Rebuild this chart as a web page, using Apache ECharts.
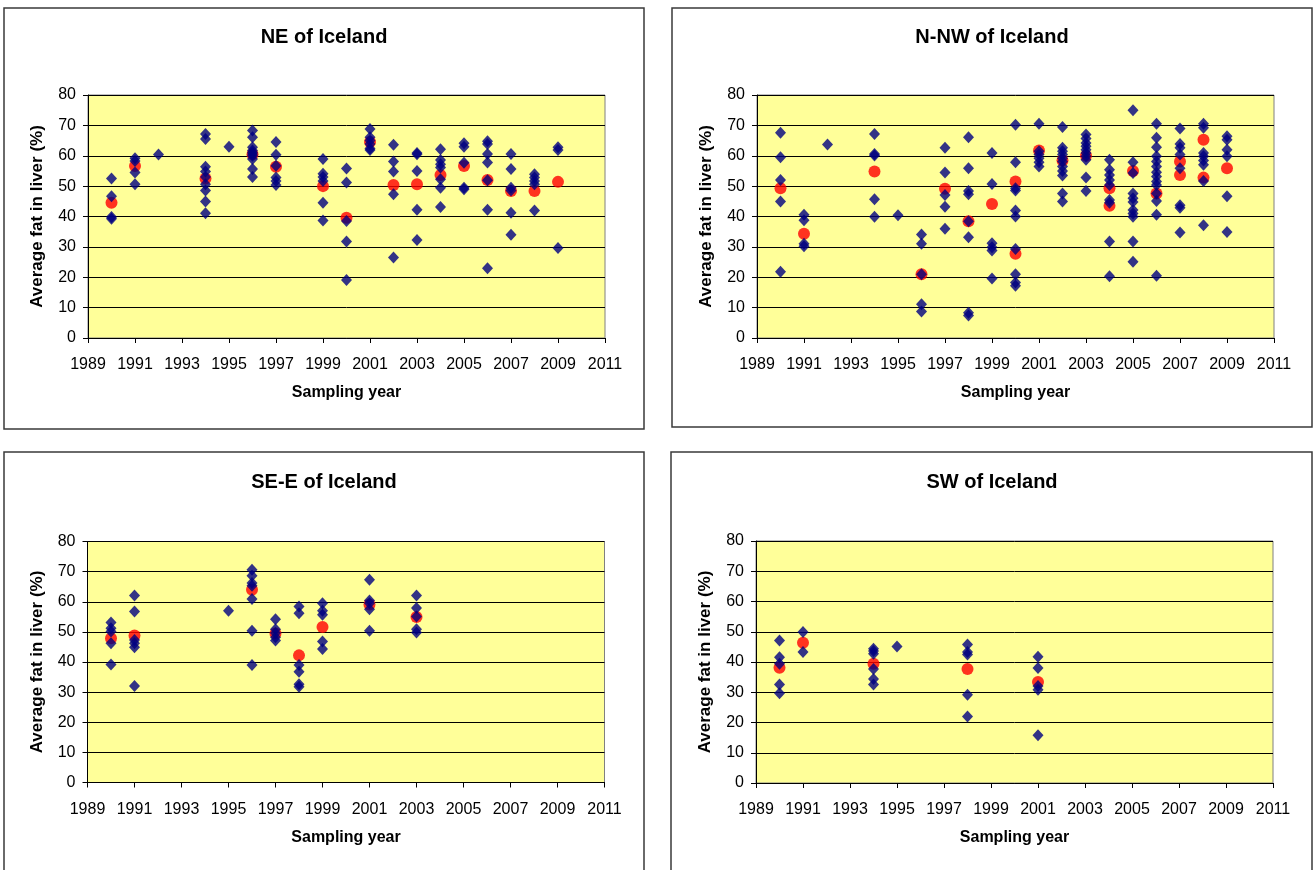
<!DOCTYPE html>
<html>
<head>
<meta charset="utf-8">
<script src="https://cdn.jsdelivr.net/npm/echarts@6/dist/echarts.min.js"></script>
<style>
html,body{margin:0;padding:0;background:#ffffff;}
#chart{width:1314px;height:870px;}
</style>
</head>
<body>
<div id="chart"></div>
<script>
// ---------- data ----------
const X_TICKS = [1989, 1991, 1993, 1995, 1997, 1999, 2001, 2003, 2005, 2007, 2009, 2011];
const PANEL_TITLES = ['NE of Iceland', 'N-NW of Iceland', 'SE-E of Iceland', 'SW of Iceland'];
const X_NAME = 'Sampling year';
const Y_NAME = 'Average fat in liver (%)';

// individual samples [year, fat %]
const NE_SAMPLES = [
  [1990,52.5],[1990,46.7],[1990,39.8],[1990,39.3],
  [1991,59.2],[1991,58.3],[1991,54.5],[1991,50.6],
  [1992,60.4],
  [1994,67.2],[1994,65.5],[1994,56.4],[1994,54.8],[1994,53.0],[1994,50.6],[1994,48.6],[1994,44.9],[1994,41.1],
  [1995,63.0],
  [1996,68.3],[1996,66.1],[1996,62.8],[1996,61.7],[1996,61.1],[1996,60.6],[1996,60.0],[1996,58.9],[1996,55.6],[1996,53.0],
  [1997,64.5],[1997,60.3],[1997,56.7],[1997,52.8],[1997,51.7],[1997,50.4],
  [1999,58.9],[1999,54.1],[1999,53.0],[1999,51.7],[1999,44.5],[1999,38.7],
  [2000,55.8],[2000,51.2],[2000,38.5],[2000,31.8],[2000,19.1],
  [2001,68.8],[2001,66.1],[2001,65.0],[2001,63.9],[2001,62.4],[2001,61.9],
  [2002,63.6],[2002,58.1],[2002,54.8],[2002,47.3],[2002,26.5],
  [2003,60.9],[2003,60.5],[2003,55.0],[2003,42.2],[2003,32.3],
  [2004,62.1],[2004,58.6],[2004,57.2],[2004,56.1],[2004,52.3],[2004,49.5],[2004,43.1],
  [2005,64.1],[2005,63.0],[2005,57.7],[2005,49.5],[2005,49.0],
  [2006,64.8],[2006,63.9],[2006,60.6],[2006,57.8],[2006,51.9],[2006,42.2],[2006,23.0],
  [2007,60.6],[2007,55.6],[2007,49.5],[2007,48.6],[2007,41.2],[2007,34.0],
  [2008,53.9],[2008,52.8],[2008,51.7],[2008,50.6],[2008,42.0],
  [2009,62.8],[2009,61.9],[2009,29.6]
];
const NE_MEANS = [
  [1990,44.5],[1991,56.6],[1994,52.5],[1996,60.5],[1997,56.4],[1999,50.0],[2000,39.6],[2001,64.5],
  [2002,50.4],[2003,50.6],[2004,53.7],[2005,56.6],[2006,52.0],[2007,48.4],[2008,48.4],[2009,51.4]
];

const NNW_SAMPLES = [
  [1990,67.6],[1990,59.5],[1990,52.0],[1990,44.9],[1990,21.8],
  [1991,40.6],[1991,38.8],[1991,31.0],[1991,30.2],
  [1992,63.7],
  [1994,67.2],[1994,60.6],[1994,60.1],[1994,45.7],[1994,39.9],
  [1995,40.4],
  [1996,34.1],[1996,31.0],[1996,21.0],[1996,11.1],[1996,8.7],
  [1997,62.6],[1997,54.5],[1997,47.1],[1997,43.2],[1997,36.0],
  [1998,66.1],[1998,55.9],[1998,48.4],[1998,47.3],[1998,38.4],[1998,33.2],[1998,8.3],[1998,7.4],
  [1999,60.9],[1999,50.7],[1999,31.2],[1999,29.9],[1999,28.8],[1999,19.6],
  [2000,70.2],[2000,57.9],[2000,49.3],[2000,48.6],[2000,42.0],[2000,40.0],[2000,29.3],[2000,21.0],[2000,18.3],[2000,17.2],
  [2001,70.5],[2001,61.5],[2001,60.4],[2001,59.2],[2001,57.9],[2001,56.5],
  [2002,69.5],[2002,62.6],[2002,61.5],[2002,60.4],[2002,59.2],[2002,58.1],[2002,56.5],[2002,55.0],[2002,53.5],[2002,47.6],[2002,44.9],
  [2003,67.0],[2003,65.7],[2003,64.2],[2003,63.1],[2003,62.0],[2003,60.9],[2003,59.8],[2003,58.7],[2003,52.8],[2003,48.4],
  [2004,58.7],[2004,55.4],[2004,53.7],[2004,52.0],[2004,50.4],[2004,45.4],[2004,44.5],[2004,31.8],[2004,20.3],
  [2005,75.0],[2005,57.9],[2005,54.3],[2005,47.6],[2005,46.0],[2005,44.8],[2005,42.1],[2005,41.0],[2005,39.9],[2005,31.8],[2005,25.1],
  [2006,70.5],[2006,65.9],[2006,62.8],[2006,59.8],[2006,58.1],[2006,56.5],[2006,54.6],[2006,53.2],[2006,51.5],[2006,50.4],[2006,47.6],[2006,45.1],[2006,40.6],[2006,20.5],
  [2007,69.0],[2007,63.9],[2007,62.6],[2007,60.4],[2007,55.9],[2007,43.7],[2007,42.9],[2007,34.7],
  [2008,70.5],[2008,69.2],[2008,60.9],[2008,59.8],[2008,58.4],[2008,57.0],[2008,51.7],[2008,37.1],
  [2009,66.4],[2009,65.3],[2009,62.0],[2009,59.8],[2009,46.7],[2009,34.9]
];
const NNW_MEANS = [
  [1990,49.3],[1991,34.3],[1994,54.8],[1996,21.0],[1997,49.1],[1998,38.4],[1999,44.1],
  [2000,51.5],[2000,27.7],[2001,61.7],[2002,58.4],[2003,60.0],[2004,49.3],[2004,43.5],
  [2005,55.0],[2006,47.6],[2007,58.1],[2007,53.7],[2008,65.3],[2008,52.8],[2009,55.9]
];

const SEE_SAMPLES = [
  [1990,53.1],[1990,51.2],[1990,50.1],[1990,46.2],[1990,39.2],
  [1991,62.1],[1991,56.8],[1991,47.3],[1991,46.2],[1991,44.9],[1991,32.0],
  [1995,57.0],
  [1996,70.6],[1996,68.6],[1996,66.2],[1996,65.3],[1996,60.9],[1996,50.4],[1996,39.0],
  [1997,54.2],[1997,50.9],[1997,49.6],[1997,48.2],[1997,47.1],
  [1998,58.4],[1998,56.2],[1998,39.0],[1998,36.8],[1998,32.6],[1998,31.8],
  [1999,59.5],[1999,57.0],[1999,55.7],[1999,46.8],[1999,44.3],
  [2001,67.3],[2001,60.4],[2001,59.5],[2001,57.5],[2001,50.4],
  [2003,62.1],[2003,57.9],[2003,55.1],[2003,50.9],[2003,49.8]
];
const SEE_MEANS = [
  [1990,47.9],[1991,48.8],[1996,64.0],[1997,49.5],[1998,42.2],[1999,51.6],[2001,59.1],[2003,54.9]
];

const SW_SAMPLES = [
  [1990,47.1],[1990,41.6],[1990,39.4],[1990,32.6],[1990,29.7],
  [1991,49.9],[1991,43.3],
  [1994,44.4],[1994,43.6],[1994,42.7],[1994,37.7],[1994,34.4],[1994,32.6],
  [1995,45.1],
  [1998,45.8],[1998,43.3],[1998,42.5],[1998,29.2],[1998,22.0],
  [2001,41.7],[2001,38.0],[2001,32.1],[2001,30.8],[2001,15.8]
];
const SW_MEANS = [
  [1990,38.1],[1991,46.4],[1994,39.4],[1998,37.7],[2001,33.4]
];

// ---------- layout ----------
const SAMPLE_SETS = [NE_SAMPLES, NNW_SAMPLES, SEE_SAMPLES, SW_SAMPLES];
const MEAN_SETS = [NE_MEANS, NNW_MEANS, SEE_MEANS, SW_MEANS];
const PANELS = [
  {grid:{left:88, top:95, width:517, height:243}, frame:[4,8,640,421], tx:324, ty:37},
  {grid:{left:757, top:95, width:517, height:243}, frame:[672,8,640,419], tx:992, ty:37},
  {grid:{left:87.5, top:541.5, width:517, height:241}, frame:[4,452,640,430], tx:324, ty:482},
  {grid:{left:756, top:541, width:517, height:242}, frame:[671,452,641,430], tx:992, ty:482}
];
const FONT = '"Liberation Sans", Arial, sans-serif';

const grids = [], xAxes = [], yAxes = [], series = [], graphics = [];
PANELS.forEach((p, i) => {
  grids.push(Object.assign({
    show: true, backgroundColor: '#FFFF99', borderColor: '#808080', borderWidth: 1
  }, p.grid));
  xAxes.push({
    type: 'value', gridIndex: i, min: 1989, max: 2011,
    name: X_NAME, nameLocation: 'middle', nameGap: 47,
    nameTextStyle: {fontFamily: FONT, fontWeight: 'bold', fontSize: 16, color: '#000'},
    axisLine: {show: true, onZero: false, lineStyle: {color: '#000', width: 1}},
    axisTick: {show: true, length: 5, lineStyle: {color: '#000'}, customValues: X_TICKS},
    axisLabel: {fontFamily: FONT, fontSize: 16, color: '#000', margin: 19,
                customValues: X_TICKS, formatter: v => String(v)},
    splitLine: {show: false}
  });
  yAxes.push({
    type: 'value', gridIndex: i, min: 0, max: 80, interval: 10,
    name: Y_NAME, nameLocation: 'middle', nameGap: 42,
    nameTextStyle: {fontFamily: FONT, fontWeight: 'bold', fontSize: 17, color: '#000'},
    axisLine: {show: true, lineStyle: {color: '#000', width: 1}},
    axisTick: {show: true, length: 5, lineStyle: {color: '#000'}},
    axisLabel: {fontFamily: FONT, fontSize: 16, color: '#000', margin: 12},
    splitLine: {show: true, lineStyle: {color: '#000', width: 1}}
  });
  series.push({
    type: 'scatter', xAxisIndex: i, yAxisIndex: i, data: MEAN_SETS[i],
    symbol: 'circle', symbolSize: 12, itemStyle: {color: '#FF0000'}, z: 2, silent: true
  });
  series.push({
    type: 'scatter', xAxisIndex: i, yAxisIndex: i, data: SAMPLE_SETS[i],
    symbol: 'diamond', symbolSize: [11, 12], itemStyle: {color: '#000080'}, z: 3, silent: true
  });
  graphics.push({
    type: 'rect', z: -10,
    shape: {x: p.frame[0], y: p.frame[1], width: p.frame[2], height: p.frame[3]},
    style: {fill: null, stroke: '#3a3a3a', lineWidth: 1.5}
  });
  graphics.push({
    type: 'text', x: p.tx, y: p.ty,
    style: {text: PANEL_TITLES[i], align: 'center', verticalAlign: 'middle',
            font: 'bold 20px ' + FONT, fill: '#000'}
  });
});

const chart = echarts.init(document.getElementById('chart'), null, {renderer: 'canvas'});
chart.setOption({
  animation: false,
  backgroundColor: '#ffffff',
  grid: grids, xAxis: xAxes, yAxis: yAxes, series: series, graphic: graphics
});
</script>
</body>
</html>
